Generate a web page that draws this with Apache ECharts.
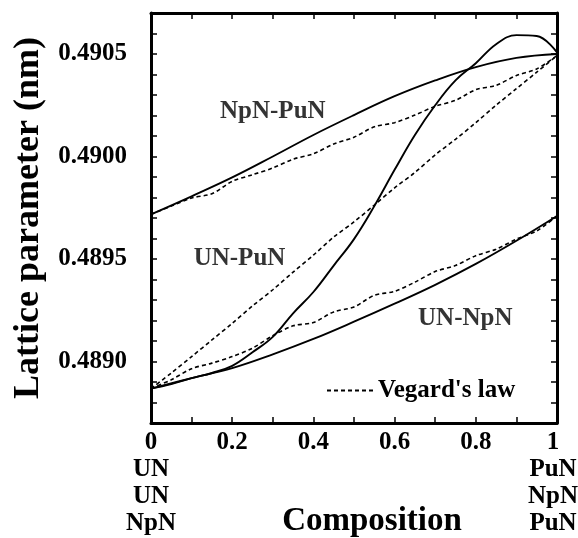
<!DOCTYPE html>
<html>
<head>
<meta charset="utf-8">
<script src="https://cdn.jsdelivr.net/npm/echarts@6/dist/echarts.min.js"></script>
<style>
html,body{margin:0;padding:0;background:#fff;}
#chart{width:578px;height:538px;}
</style>
</head>
<body>
<div id="chart"></div>
<script>
// ---- data ----
const compositionFine = [0,0.05,0.1,0.15,0.2,0.25,0.3,0.35,0.4,0.45,0.5,0.55,0.6,0.65,0.7,0.75,0.8,0.85,0.9,0.95,1];
const compositionCoarse = [0,0.1,0.2,0.3,0.4,0.5,0.6,0.7,0.8,0.9,1];

const npnPunMeasured = [0.489718,0.489806,0.489898,0.490000,0.490105,0.490202,0.490294,0.490371,0.490436,0.490481,0.490500];
const npnPunVegard = [0.489718,0.489758,0.489798,0.489818,0.489879,0.489911,0.489944,0.489987,0.490013,0.490061,0.490094,0.490145,0.490165,0.490202,0.490245,0.490274,0.490326,0.490347,0.490395,0.490427,0.490492];

const unPunMeasured = [0.488868,0.488890,0.488919,0.488944,0.488979,0.489045,0.489120,0.489235,0.489339,0.489468,0.489597,0.489758,0.489935,0.490105,0.490250,0.490371,0.490455,0.490548,0.490592,0.490588,0.490508];
const unPunVegard = [0.488868,0.488944,0.489024,0.489105,0.489186,0.489271,0.489350,0.489436,0.489519,0.489607,0.489681,0.489763,0.489847,0.489922,0.490008,0.490084,0.490165,0.490250,0.490331,0.490411,0.490492];

const unNpnMeasured = [0.488868,0.488919,0.488968,0.489035,0.489110,0.489194,0.489282,0.489374,0.489476,0.489589,0.489710];
const unNpnVegard = [0.488868,0.488911,0.488965,0.488992,0.489024,0.489065,0.489126,0.489174,0.489190,0.489242,0.489266,0.489323,0.489342,0.489387,0.489439,0.489468,0.489516,0.489548,0.489597,0.489637,0.489710];

const systemLabels = ['NpN-PuN','UN-PuN','UN-NpN'];
const leftEndLabels = ['UN','UN','NpN'];
const rightEndLabels = ['PuN','NpN','PuN'];
const yTickLabels = ['0.4890','0.4895','0.4900','0.4905'];
const vegardName = "Vegard's law";

// ---- chart ----
const FONT = "'Liberation Serif','Times New Roman',serif";
const zip = (xs, ys) => xs.map((x, i) => [x, ys[i]]);

const chart = echarts.init(document.getElementById('chart'), null, {renderer:'canvas'});

const solid = (name, xs, ys) => ({
  name, type:'line', data: zip(xs, ys), symbol:'none', smooth:0.4,
  lineStyle:{color:'#000', width:1.9}, z:3, silent:true
});
const dashed = (xs, ys) => ({
  name: vegardName, type:'line', data: zip(xs, ys), symbol:'none', smooth:0.3,
  lineStyle:{color:'#000', width:1.6, type:[4,3]}, itemStyle:{color:'#000'}, z:2, silent:true
});

const tickStyle = {show:true, inside:true, length:6, lineStyle:{color:'#000', width:1.5}};
const lineStyleAxis = {show:true, onZero:false, lineStyle:{color:'#000', width:3}};
const labelFont = {fontFamily:FONT, fontWeight:'bold', fontSize:25, color:'#000'};

const xLabel = v => {
  const k = Math.round(v * 10);
  if (k === 0) return '0\n' + leftEndLabels.join('\n');
  if (k === 10) return '{r|1\n' + rightEndLabels.join('\n') + '}';
  return k % 2 === 0 ? (k / 10).toFixed(1) : '';
};
const yLabel = v => {
  const s = v.toFixed(4);
  return yTickLabels.indexOf(s) >= 0 ? s : '';
};

const dashIcon = 'path://M0,0h4v2h-4z M7,0h4v2h-4z M14,0h4v2h-4z M21,0h4v2h-4z M28,0h4v2h-4z M35,0h4v2h-4z M42,0h4v2h-4z';

const option = {
  animation:false,
  backgroundColor:'#fff',
  grid:{left:151, top:13, width:406, height:410, show:false, outerBoundsMode:'none', containLabel:false},
  legend:{
    data:[{name:vegardName, icon:dashIcon}], left:322, top:373, itemWidth:46, itemHeight:2, itemGap:10,
    selectedMode:false, itemStyle:{color:'#000'}, textStyle:{...labelFont}
  },
  xAxis:[
    {type:'value', min:0, max:1, interval:0.1, position:'bottom',
     axisLine:lineStyleAxis, axisTick:tickStyle, splitLine:{show:false},
     axisLabel:{...labelFont, formatter:xLabel, lineHeight:27, margin:6, showMaxLabel:true, showMinLabel:true, hideOverlap:false,
       rich:{r:{...labelFont, lineHeight:27, padding:[0,8,0,0]}}},
     name:'Composition', nameLocation:'middle', nameGap:82, nameMoveOverlap:false,
     nameTextStyle:{fontFamily:FONT, fontWeight:'bold', fontSize:33, color:'#000', padding:[0,0,0,36]}},
    {type:'value', min:0, max:1, interval:0.1, position:'top',
     axisLine:lineStyleAxis, axisTick:tickStyle, splitLine:{show:false}, axisLabel:{show:false}}
  ],
  yAxis:[
    {type:'value', min:0.4887, max:0.4907, interval:0.0001, position:'left',
     axisLine:lineStyleAxis, axisTick:tickStyle, splitLine:{show:false},
     axisLabel:{...labelFont, formatter:yLabel, margin:24},
     name:'Lattice parameter (nm)', nameLocation:'middle', nameGap:104, nameMoveOverlap:false,
     nameTextStyle:{fontFamily:FONT, fontWeight:'bold', fontSize:36, color:'#000'}},
    {type:'value', min:0.4887, max:0.4907, interval:0.0001, position:'right',
     axisLine:lineStyleAxis, axisTick:tickStyle, splitLine:{show:false}, axisLabel:{show:false}}
  ],
  series:[
    solid('NpN-PuN', compositionCoarse, npnPunMeasured),
    dashed(compositionFine, npnPunVegard),
    solid('UN-PuN', compositionFine, unPunMeasured),
    dashed(compositionFine, unPunVegard),
    solid('UN-NpN', compositionCoarse, unNpnMeasured),
    dashed(compositionFine, unNpnVegard),
    {
      name:'labels', type:'scatter', symbolSize:0, silent:true, z:5,
      data:[
        {name:systemLabels[0], value:[0.30, 0.49022]},
        {name:systemLabels[1], value:[0.218, 0.48950]},
        {name:systemLabels[2], value:[0.774, 0.48921]}
      ],
      label:{show:true, position:'inside', formatter:p => p.name, ...labelFont}
    }
  ]
};
chart.setOption(option);
</script>
</body>
</html>
